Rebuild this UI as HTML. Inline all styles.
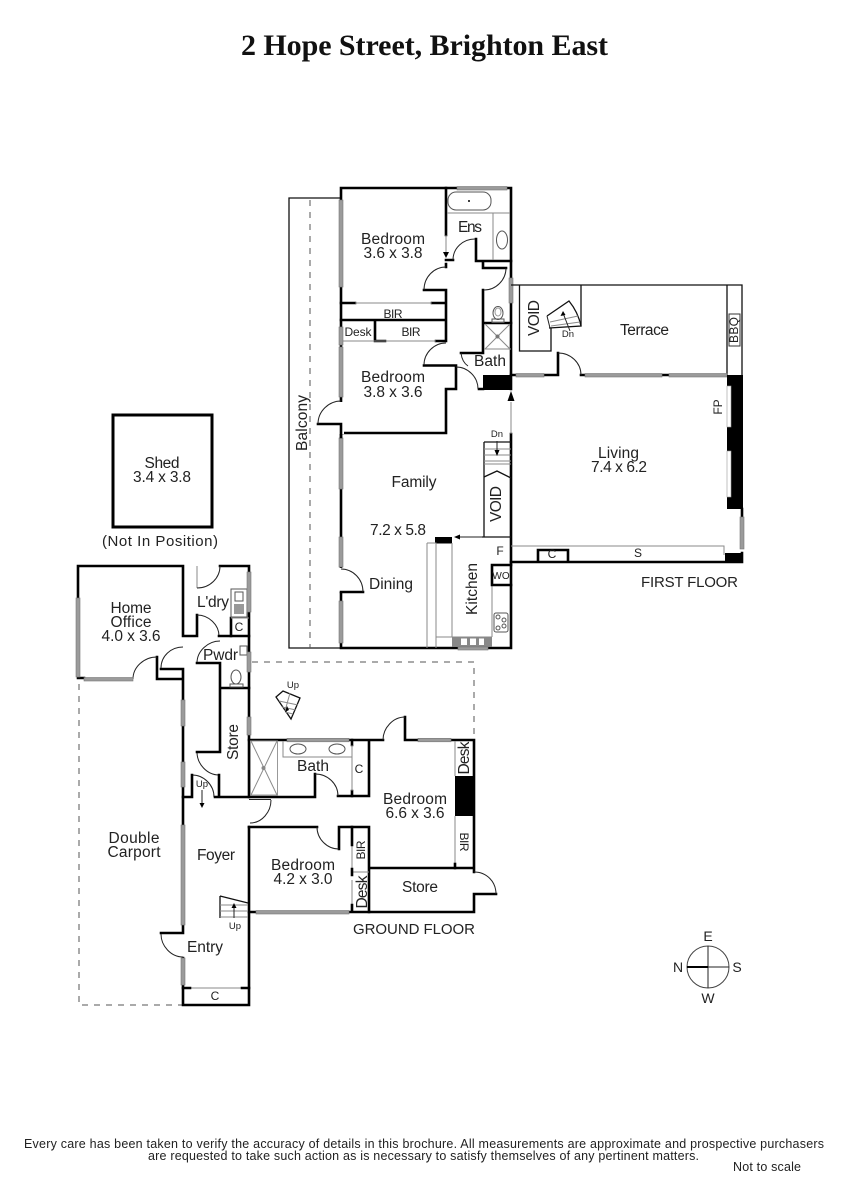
<!DOCTYPE html>
<html><head><meta charset="utf-8"><title>2 Hope Street, Brighton East</title>
<style>
html,body{margin:0;padding:0;background:#fff}
svg{display:block}
text{font-family:"Liberation Sans",sans-serif;fill:#222;text-anchor:middle;font-size:15.5px}
.s{font-size:12px}.xs{font-size:9.5px}
.w{fill:none;stroke:#000;stroke-width:2.6;stroke-linecap:square}
.m{fill:none;stroke:#111;stroke-width:1.3}
.d{fill:none;stroke:#222;stroke-width:1}
.g{fill:none;stroke:#8a8a8a;stroke-width:1}
.n{fill:#9b9b9b;stroke:#777;stroke-width:.6}
.dash{fill:none;stroke:#555;stroke-width:1;stroke-dasharray:6 6}
.b{fill:#000;stroke:none}
</style></head><body>
<svg width="848" height="1200" viewBox="0 0 848 1200" xmlns="http://www.w3.org/2000/svg">
<rect width="848" height="1200" fill="#fff"/>
<text x="424.500" y="55" textLength="367" style="font-family:'Liberation Serif',serif;font-weight:bold;font-size:30px;fill:#111">2 Hope Street, Brighton East</text>

<!-- Shed -->
<rect x="113" y="415" width="99" height="112" fill="none" stroke="#000" stroke-width="3"/>

<!-- FIRST FLOOR -->
<path class="m" d="M341 198H289V648H341"/>
<path class="dash" d="M310 200V648"/>
<path class="w" d="M341 188H511V278M511 303V389M341 188V648H511V434"/>
<path class="w" d="M446 188V235M446 260H453M476 239V261H511M446 264V267M424 290H446V340M341 320H446M375 320V341M341 303H355M432 303H446M375 341H385M436 341H446M424 365.500H456V389H446V433H341M483 261V268H506M483 290V353H461M483 323H511M479 389H483"/>
<path class="g" d="M446 235V252M355 303H432M341 341H436M447 213H510M493 213V260M484 349H511"/>
<path class="b" d="M443 252h6l-3 6z"/>
<path class="d" d="M453 260C453 248 463 239 475 239M446 267C434 267 424 277 424 290M506 268C506 280 496 290 484 290M446 343C434 343 424 353 424 365M456 367C468 367 478 377 478 389M461 353Q462 362 468 366"/>
<rect x="448" y="192" width="43" height="18" rx="8" fill="none" stroke="#555"/>
<circle cx="469" cy="201" r="1" fill="#000"/>
<ellipse cx="502" cy="240" rx="5.500" ry="9" fill="none" stroke="#555"/>
<ellipse cx="498" cy="313" rx="5" ry="6.500" fill="none" stroke="#555"/>
<ellipse cx="498" cy="312" rx="3" ry="4" fill="none" stroke="#999"/>
<rect x="492" y="319" width="12" height="3.500" fill="none" stroke="#555"/>
<path class="g" d="M485 324L510 349M510 324L485 349"/>
<circle cx="497.500" cy="336.500" r="2" fill="#777"/>
<rect class="b" x="483" y="375" width="28" height="15"/>
<rect class="n" x="457" y="186.500" width="50" height="3.500"/>
<rect class="n" x="509" y="278" width="4" height="25"/>
<rect class="n" x="339" y="200" width="4" height="87"/>
<rect class="n" x="339" y="327" width="4" height="18"/>
<rect class="n" x="339" y="347" width="4" height="50"/>
<rect class="n" x="339" y="438" width="4" height="51"/>
<rect class="n" x="339" y="537" width="4" height="30"/>
<rect class="n" x="339" y="601" width="4" height="42"/>
<!-- balcony doors -->
<rect x="339" y="402" width="5" height="32" fill="#fff"/>
<path class="w" d="M318 424H341V437"/>
<path class="d" d="M341 401C329 401 318 411 318 424"/>
<rect x="339" y="568" width="5" height="24" fill="#fff"/>
<path class="w" d="M341 592H363"/>
<path class="d" d="M341 569C353 569 363 579 363 592"/>
<!-- right corridor -->
<path class="g" d="M511 402V434"/>
<path class="b" d="M511 391l-3.500 10h7z"/>
<path class="m" d="M484 442V537M482 537H511M484 442H511"/>
<path class="g" d="M484 449H511M484 455H511M484 461H511M484 464H511"/>
<path class="m" d="M484 477L497 471L511 478"/>
<path class="d" d="M497 441V454"/>
<path class="b" d="M497 456l-2.500 -6h5z"/>
<path class="d" d="M482 537H458"/>
<path class="b" d="M454 537l6 -2.500v5z"/>
<rect class="b" x="435" y="537" width="17" height="6.500"/>
<path class="g" d="M427 543H436V648M427 543V648M436 543V648M452 543V637M436 637H452M452 637H492M492 585V637"/>
<path class="w" d="M492 565H511M492 585H511M492 565V585"/>
<rect x="494" y="613" width="14" height="19" rx="2" fill="none" stroke="#555"/>
<circle cx="498" cy="617" r="2" fill="none" stroke="#555"/><circle cx="504" cy="620" r="2" fill="none" stroke="#555"/>
<circle cx="498" cy="628" r="2" fill="none" stroke="#555"/><circle cx="504" cy="626" r="2" fill="none" stroke="#555"/>
<rect x="452" y="637" width="40" height="9.500" fill="#888"/>
<rect x="461" y="638.500" width="6" height="6.500" fill="#fff"/><rect x="470" y="638.500" width="6" height="6.500" fill="#fff"/><rect x="479" y="638.500" width="5" height="6.500" fill="#fff"/>
<rect class="n" x="458" y="647" width="30" height="3"/>

<!-- terrace / living -->
<path class="m" d="M511 285H742V375M727 285V375M519.500 285V351H551V328M581 285V326"/>
<path class="w" d="M511 375H544M544 375H558V353M581 375H585M662 375H669M511 562H742V553"/>
<rect class="n" x="516" y="373.500" width="28" height="3.500"/>
<rect class="n" x="585" y="373.500" width="77" height="3.500"/>
<rect class="n" x="669" y="373.500" width="58" height="3.500"/>
<path class="d" d="M558 353C571 353 581 363 581 375"/>
<path class="m" d="M547 316L569 301Q578 312 581 326L549 328"/>
<path class="g" d="M550 322L578 316M551 326L580 322"/>
<path class="d" d="M547 316L550 328M563 313L570 331"/>
<path class="b" d="M563 311l-2.500 5l5 -1z"/>
<rect x="729" y="314" width="11" height="32" fill="none" stroke="#333"/>
<rect class="b" x="727" y="375" width="16" height="134"/>
<rect x="727" y="386" width="4" height="41" fill="#fff" stroke="#999" stroke-width=".6"/>
<rect x="727" y="451" width="4" height="46" fill="#fff" stroke="#999" stroke-width=".6"/>
<path class="w" d="M742 509V517"/>
<rect class="n" x="740" y="517" width="4" height="32"/>
<rect class="b" x="725" y="553" width="18" height="10"/>
<path class="g" d="M511 546H724V555"/>
<path class="w" d="M538 560V550H568V560"/>

<!-- GROUND FLOOR -->
<path class="dash" d="M79 684V1005H183"/>
<path class="dash" d="M252 662H474V738"/>
<path class="w" d="M183 636V566H78V678H84M183 636H197M197 615V636M220 566H249V797M157 657V679H183M183 669V933H161M161 669H183M183 958V1005H249V827"/>
<path class="g" d="M197 566V588"/>
<path class="d" d="M133 679C133 667 144 657 157 657M197 588C210 588 220 578 220 566M197 615C209 615 219 625 219 636M161 668C161 656 171 647 183 647M197 663C197 651 208 641 220 641M197 752C197 764 207 775 219 775M192 775C204 775 214 785 214 797M161 934C161 946 171 957 183 957"/>
<path class="w" d="M219 636H249M197 663H220V752H197M220 688H249M183 797H192V775M219 775V797M215 797H315V774M338 796H369V740M249 740H383M405 717V740H474V872M474 894V912H369V827H339V849M317 827H249M474 894H496M369 868H474"/>
<path class="w" d="M231 618V636M352 740V745M352 791V796"/>
<path class="g" d="M231 618H249M352 745V791"/>
<path class="d" d="M383 740C383 728 393 717 405 717M315 774C328 774 338 784 338 796M250 823C262 823 271 812 271 800M249 799.500H271M317 827C317 839 327 849 339 849M474 872C487 872 496 882 496 894"/>
<rect x="231" y="589" width="16" height="28" fill="none" stroke="#555"/>
<rect x="235" y="592" width="8" height="9" fill="none" stroke="#555"/>
<rect x="234" y="604" width="10" height="10" fill="#999"/>
<rect x="240" y="646" width="7" height="9" fill="none" stroke="#555"/>
<ellipse cx="236" cy="677" rx="5" ry="7" fill="none" stroke="#555"/>
<rect x="230" y="684" width="13" height="3" fill="none" stroke="#555"/>
<rect x="250.500" y="741" width="27" height="54" fill="none" stroke="#999"/>
<path class="g" d="M251 741L277 795M277 741L251 795"/>
<circle cx="263.500" cy="768" r="2" fill="#888"/>
<path class="g" d="M283 741V757H352"/>
<ellipse cx="298" cy="749" rx="8" ry="5" fill="none" stroke="#555"/>
<ellipse cx="337" cy="749" rx="8" ry="5" fill="none" stroke="#555"/>
<path class="g" d="M352 833V872M352 880V905M352 872H369"/>
<path class="w" d="M352 827V845M352 869V875M352 905V912M349 912H369M249 912H256"/>
<rect class="n" x="256" y="910.500" width="93" height="3.500"/>
<rect class="b" x="455" y="776" width="19" height="40"/>
<path class="g" d="M455 741V776M455 816V868"/>
<path class="w" d="M455 864V868"/>
<path class="g" d="M183 988H249"/>
<path class="w" d="M183 988H190M242 988H249"/>
<path class="m" d="M220 896L248 903M220 896V918"/>
<path class="g" d="M220 905H248M220 911H248M220 917H248"/>
<path class="d" d="M234 918V906"/>
<path class="b" d="M234 903l-2.500 5h5z"/>
<path class="d" d="M202 790V805"/>
<path class="b" d="M202 808l-2.500 -5h5z"/>
<path class="m" d="M276 697L283 691L300 698L291 719Z"/>
<path class="g" d="M279 701L298 705M282 707L296 710M285 712L293 714M290 693L285 711"/>
<path class="b" d="M287 706l-2 6l4 -2z"/>
<rect class="n" x="247" y="572" width="4" height="40"/>
<rect class="n" x="247" y="652" width="4" height="20"/>
<rect class="n" x="247" y="717" width="4" height="18"/>
<rect class="n" x="76" y="598" width="4" height="79"/>
<rect class="n" x="84" y="677.500" width="49" height="3.500"/>
<rect class="n" x="181" y="700" width="4" height="26"/>
<rect class="n" x="181" y="762" width="4" height="25"/>
<rect class="n" x="181" y="825" width="4" height="100"/>
<rect class="n" x="181" y="958" width="4" height="27"/>
<rect class="n" x="287" y="738.300" width="62" height="3.500"/>
<rect class="n" x="418" y="738.300" width="33" height="3.500"/>

<!-- Compass -->
<circle cx="708" cy="967" r="21" fill="none" stroke="#444" stroke-width="1"/>
<path class="d" d="M708 946V988M708 967H729"/>
<path d="M687 967H708" stroke="#000" stroke-width="2" fill="none"/>

<!-- Labels -->
<text x="393" y="244" textLength="64">Bedroom</text><text x="393" y="258" textLength="59">3.6 x 3.8</text>
<text x="393" y="318" class="s" textLength="19">BIR</text><text x="358" y="336" class="s" textLength="27">Desk</text><text x="411" y="336" class="s" textLength="19">BIR</text>
<text x="470" y="232" textLength="24">Ens</text><text x="490" y="366" textLength="32">Bath</text>
<text x="393" y="382" textLength="64">Bedroom</text><text x="393" y="397" textLength="59">3.8 x 3.6</text>
<text transform="translate(307 423) rotate(-90)" textLength="56">Balcony</text>
<text x="414" y="487" textLength="45">Family</text><text x="398" y="535" textLength="56">7.2 x 5.8</text><text x="391" y="589" textLength="44">Dining</text>
<text transform="translate(501 504) rotate(-90)" textLength="36">VOID</text>
<text transform="translate(477 589) rotate(-90)" textLength="52">Kitchen</text>
<text x="500" y="555" class="s">F</text><text x="501" y="579" style="font-size:10px">WO</text>
<text transform="translate(539 318) rotate(-90)" textLength="36">VOID</text>
<text x="568" y="337" class="xs">Dn</text><text x="497" y="437" class="xs">Dn</text>
<text x="644.500" y="335" textLength="49">Terrace</text>
<text x="618.500" y="458" textLength="41">Living</text><text x="619" y="472" textLength="56">7.4 x 6.2</text>
<text transform="translate(738 330) rotate(-90)" class="s" textLength="26">BBQ</text>
<text transform="translate(722 407) rotate(-90)" class="s">FP</text>
<text x="552" y="558" class="s">C</text><text x="638" y="557" class="s">S</text>
<text x="689.500" y="587" textLength="97" style="font-size:15px">FIRST FLOOR</text>
<text x="162" y="468" textLength="35">Shed</text><text x="162" y="482" textLength="58">3.4 x 3.8</text>
<text x="160" y="546" textLength="116" style="font-size:15px">(Not In Position)</text>
<text x="131" y="613" textLength="41">Home</text><text x="131" y="627" textLength="41">Office</text><text x="131" y="641" textLength="59">4.0 x 3.6</text>
<text x="213" y="607" textLength="32">L'dry</text><text x="239" y="631" class="s">C</text><text x="220.500" y="660" textLength="35">Pwdr</text>
<text transform="translate(238 742) rotate(-90)" textLength="36">Store</text>
<text x="202" y="787" class="xs">Up</text><text x="293" y="688" class="xs">Up</text><text x="235" y="929" class="xs">Up</text>
<text x="216" y="860" textLength="38">Foyer</text>
<text x="134" y="843" textLength="51">Double</text><text x="134" y="857" textLength="53">Carport</text>
<text x="205" y="952" textLength="36">Entry</text><text x="215" y="1000" class="s">C</text>
<text x="303" y="870" textLength="64">Bedroom</text><text x="303" y="884" textLength="59">4.2 x 3.0</text>
<text transform="translate(365 850) rotate(-90)" class="s" textLength="19">BIR</text>
<text transform="translate(367 892) rotate(-90)" textLength="33">Desk</text>
<text x="313" y="771" textLength="32">Bath</text><text x="359" y="773" class="s">C</text>
<text x="415" y="804" textLength="64">Bedroom</text><text x="415" y="818" textLength="59">6.6 x 3.6</text>
<text transform="translate(469 758) rotate(-90)" textLength="33">Desk</text>
<text transform="translate(460 842) rotate(90)" class="s" textLength="19">BIR</text>
<text x="420" y="892" textLength="36">Store</text>
<text x="414" y="934" textLength="122" style="font-size:15px">GROUND FLOOR</text>
<text x="708" y="941" style="font-size:14px">E</text><text x="737" y="972" style="font-size:14px">S</text><text x="678" y="972" style="font-size:14px">N</text><text x="708" y="1003" style="font-size:14px">W</text>

<text x="424" y="1148" textLength="800" style="font-size:12.500px">Every care has been taken to verify the accuracy of details in this brochure.  All measurements are approximate and prospective purchasers</text>
<text x="423.500" y="1160" textLength="551" style="font-size:12.500px">are requested to take such action as is necessary to satisfy themselves of any pertinent matters.</text>
<text x="767" y="1171" textLength="68" style="font-size:12.500px">Not to scale</text>
</svg>
</body></html>
